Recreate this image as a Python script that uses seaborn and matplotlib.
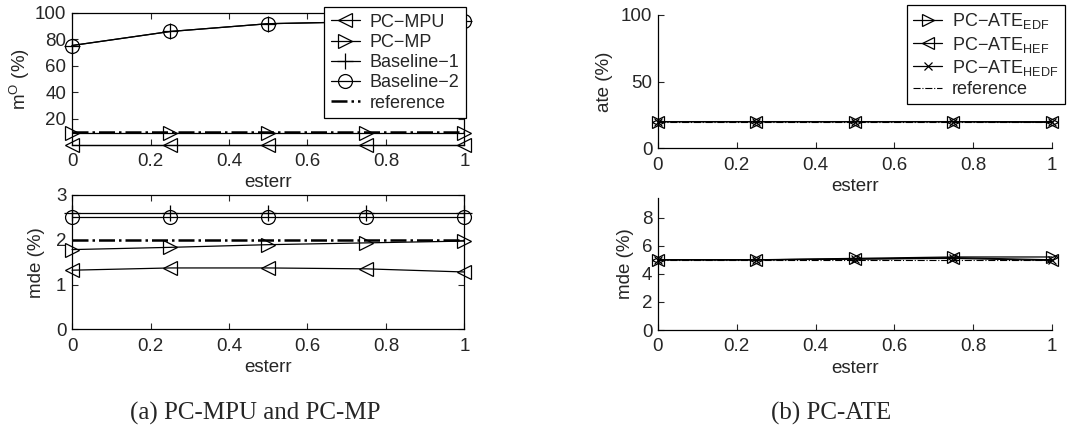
import matplotlib
matplotlib.use("Agg")
import matplotlib.pyplot as plt
import seaborn as sns

ESTERR = [0, 0.25, 0.5, 0.75, 1]

# (a) m^O (%)
MO_PC_MPU = [0.2, 0.2, 0.2, 0.2, 0.2]
MO_PC_MP = [9.3, 9.3, 9.3, 9.3, 9.3]
MO_BASE1 = [75.2, 85.8, 91.7, 93.2, 93.8]
MO_BASE2 = [75.2, 85.8, 91.7, 93.2, 93.8]
MO_REF = [10, 10, 10, 10, 10]

# (a) mde (%)
MDE_PC_MPU = [1.32, 1.37, 1.37, 1.35, 1.28]
MDE_PC_MP = [1.78, 1.83, 1.89, 1.93, 1.97]
MDE_BASE1 = [2.59, 2.59, 2.59, 2.59, 2.59]
MDE_BASE2 = [2.5, 2.5, 2.5, 2.5, 2.5]
MDE_REF = [2.0, 2.0, 2.0, 2.0, 2.0]

# (b) ate (%)
ATE_EDF = [20, 20, 20, 20, 19.8]
ATE_HEF = [20, 20, 20, 20, 19.6]
ATE_HEDF = [20, 20, 20, 20, 19.7]
ATE_REF = [20, 20, 20, 20, 20]

# (b) mde (%)
MDEB_EDF = [5.0, 5.0, 5.1, 5.2, 5.2]
MDEB_HEF = [5.0, 5.0, 5.05, 5.1, 4.95]
MDEB_HEDF = [5.0, 5.0, 5.05, 5.15, 5.0]
MDEB_REF = [5.0, 5.0, 5.0, 5.0, 5.0]

XTICKS = [0, 0.2, 0.4, 0.6, 0.8, 1]
XTICKLABELS = ["0", "0.2", "0.4", "0.6", "0.8", "1"]

FS = 13.5
LEG_FS = 13

sns.set_theme(style="ticks")
plt.rcParams["font.family"] = ["Liberation Sans", "DejaVu Sans"]
plt.rcParams["mathtext.fontset"] = "custom"
plt.rcParams["mathtext.rm"] = "Liberation Sans"
plt.rcParams["xtick.direction"] = "in"
plt.rcParams["ytick.direction"] = "in"

fig = plt.figure(figsize=(10.69, 4.4), dpi=100)
ax_a1 = fig.add_axes([0.0674, 0.6705, 0.367, 0.3006])
ax_a2 = fig.add_axes([0.0674, 0.2516, 0.367, 0.3053])
ax_b1 = fig.add_axes([0.6155, 0.663, 0.3686, 0.303])
ax_b2 = fig.add_axes([0.6155, 0.250, 0.3686, 0.300])


def draw(ax, y, marker, label, ms=10, ls="-", lw=0.9):
    sns.lineplot(x=ESTERR, y=y, ax=ax, color="black", marker=marker, markersize=ms,
                 markerfacecolor="none", markeredgecolor="black", markeredgewidth=0.9,
                 linestyle=ls, linewidth=lw, label=label, legend=False, clip_on=False)


def style_axes(ax, boxed):
    if boxed:
        ax.tick_params(top=True, right=True)
    else:
        sns.despine(ax=ax)
    ax.tick_params(labelsize=FS, length=4, width=0.8)
    ax.tick_params(axis="x", pad=6)
    ax.tick_params(axis="y", pad=4)
    for s in ax.spines.values():
        s.set_linewidth(0.9)
        s.set_color("black")
    ax.set_xlim(0, 1)
    ax.set_xticks(XTICKS)
    ax.set_xticklabels(XTICKLABELS)
    ax.set_xlabel("esterr", fontsize=FS, labelpad=3)


def legend(ax, anchor):
    leg = ax.legend(loc="upper right", bbox_to_anchor=anchor, fontsize=LEG_FS,
                    frameon=True, fancybox=False, edgecolor="black", framealpha=1,
                    borderaxespad=0, labelspacing=0.18, handlelength=1.6,
                    handletextpad=0.55, borderpad=0.35)
    leg.get_frame().set_linewidth(0.9)


# panel (a) top
draw(ax_a1, MO_PC_MPU, "<", "PC−MPU")
draw(ax_a1, MO_PC_MP, ">", "PC−MP")
draw(ax_a1, MO_BASE1, "+", "Baseline−1", ms=11)
draw(ax_a1, MO_BASE2, "o", "Baseline−2")
draw(ax_a1, MO_REF, None, "reference", ls="-.", lw=1.8)
style_axes(ax_a1, boxed=True)
ax_a1.set_ylim(0, 100)
ax_a1.set_yticks([20, 40, 60, 80, 100])
ax_a1.set_ylabel("m$^{\\rm O}$ (%)", fontsize=FS, labelpad=2)
legend(ax_a1, (1.003, 1.04))

# panel (a) bottom
draw(ax_a2, MDE_PC_MPU, "<", "PC−MPU")
draw(ax_a2, MDE_PC_MP, ">", "PC−MP")
draw(ax_a2, MDE_BASE1, "+", "Baseline−1", ms=11)
draw(ax_a2, MDE_BASE2, "o", "Baseline−2")
draw(ax_a2, MDE_REF, None, "reference", ls="-.", lw=1.8)
style_axes(ax_a2, boxed=True)
ax_a2.set_ylim(0, 3)
ax_a2.set_yticks([0, 1, 2, 3])
ax_a2.set_ylabel("mde (%)", fontsize=FS, labelpad=8)

# panel (b) top
draw(ax_b1, ATE_EDF, ">", "PC−ATE$_{\\rm EDF}$", ms=8)
draw(ax_b1, ATE_HEF, "<", "PC−ATE$_{\\rm HEF}$", ms=8)
draw(ax_b1, ATE_HEDF, "x", "PC−ATE$_{\\rm HEDF}$", ms=6)
draw(ax_b1, ATE_REF, None, "reference", ls="-.", lw=0.8)
style_axes(ax_b1, boxed=False)
ax_b1.set_ylim(0, 100)
ax_b1.set_yticks([0, 50, 100])
ax_b1.set_ylabel("ate (%)", fontsize=FS, labelpad=6)
legend(ax_b1, (1.033, 1.075))

# panel (b) bottom
draw(ax_b2, MDEB_EDF, ">", "PC−ATE$_{\\rm EDF}$", ms=8)
draw(ax_b2, MDEB_HEF, "<", "PC−ATE$_{\\rm HEF}$", ms=8)
draw(ax_b2, MDEB_HEDF, "x", "PC−ATE$_{\\rm HEDF}$", ms=6)
draw(ax_b2, MDEB_REF, None, "reference", ls="-.", lw=0.8)
style_axes(ax_b2, boxed=False)
ax_b2.set_ylim(0, 9.4)
ax_b2.set_yticks([0, 2, 4, 6, 8])
ax_b2.set_ylabel("mde (%)", fontsize=FS, labelpad=6)

serif = ["Liberation Serif", "DejaVu Serif"]
fig.text(0.2385, 0.061, "(a) PC-MPU and PC-MP", ha="center", va="center",
         fontsize=18, family=serif)
fig.text(0.777, 0.061, "(b) PC-ATE", ha="center", va="center",
         fontsize=18, family=serif)

fig.savefig("out.png", dpi=100)
